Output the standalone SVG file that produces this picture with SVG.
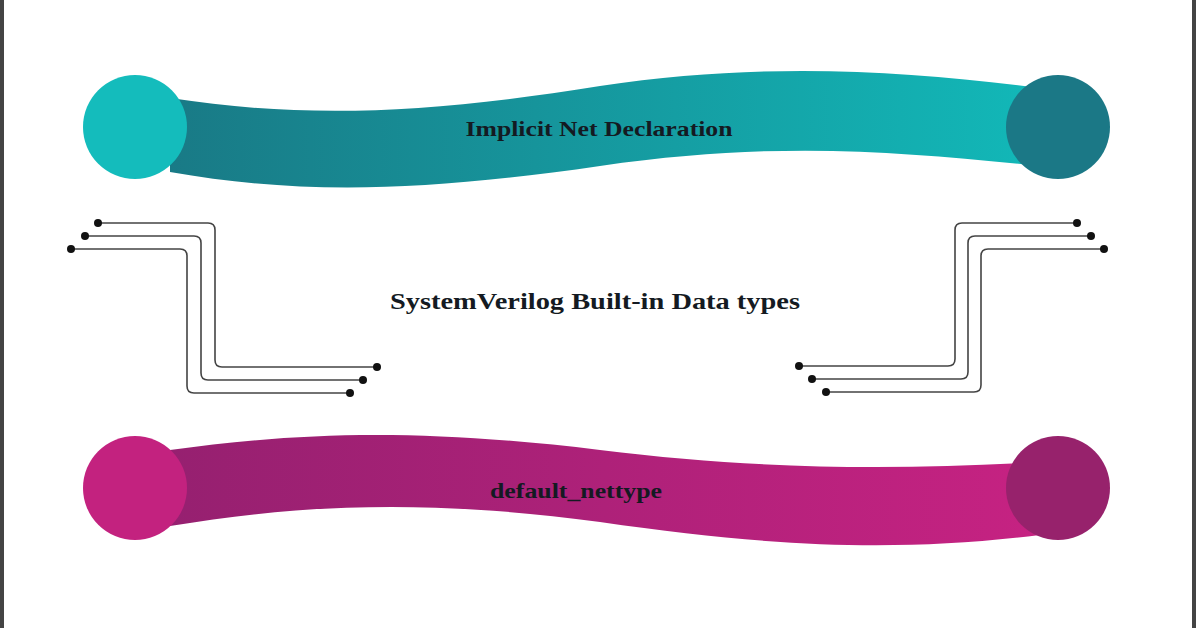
<svg xmlns="http://www.w3.org/2000/svg" width="1196" height="628" viewBox="0 0 1196 628">
<style>
.t{font-family:"Liberation Serif","Times New Roman",serif;font-weight:bold;fill:#141a22;text-anchor:middle}
.w{fill:none;stroke:#444;stroke-width:1.6}
.d{fill:#111}
</style>
<defs>
<linearGradient id="gt" x1="0" x2="1" y1="0" y2="0"><stop offset="0" stop-color="#197a86"/><stop offset="1" stop-color="#12b8b8"/></linearGradient>
<linearGradient id="gm" x1="0" x2="1" y1="0" y2="0"><stop offset="0" stop-color="#962070"/><stop offset="1" stop-color="#c62282"/></linearGradient>
</defs>
<rect width="1196" height="628" fill="#fff"/>
<rect x="0" y="0" width="4" height="628" fill="#444"/>
<rect x="1192" y="0" width="4" height="628" fill="#444"/>
<g id="implicit">
<path d="M170,98 C300,118 420,115 600,86 C760,62 900,70 1040,88 L1040,166 C900,152 780,140 600,166 C420,192 300,195 170,172 Z" fill="url(#gt)"/>
<circle cx="135" cy="127" r="52" fill="#14bcbc"/>
<circle cx="1058" cy="127" r="52" fill="#1b7886"/>
<text class="t" x="599" y="136" font-size="21" textLength="267" lengthAdjust="spacingAndGlyphs">Implicit Net Declaration</text>
</g>
<g id="default">
<path d="M170,450 C300,432 420,428 600,450 C760,470 900,470 1040,462 L1040,535 C900,552 780,548 600,522 C420,498 300,505 170,526 Z" fill="url(#gm)"/>
<circle cx="135" cy="488" r="52" fill="#c3227f"/>
<circle cx="1058" cy="488" r="52" fill="#97226c"/>
<text class="t" x="576" y="498" font-size="21" textLength="172" lengthAdjust="spacingAndGlyphs">default_nettype</text>
</g>
<g id="title">
<text class="t" x="595" y="309" font-size="24" textLength="410" lengthAdjust="spacingAndGlyphs">SystemVerilog Built-in Data types</text>
</g>
<g id="connectors">
<path class="w" d="M98,223 H208 Q215,223 215,230 V360 Q215,367 222,367 H377"/>
<path class="w" d="M85,236 H194 Q201,236 201,243 V373 Q201,380 208,380 H363"/>
<path class="w" d="M71,249 H180 Q187,249 187,256 V386 Q187,393 194,393 H350"/>
<circle class="d" cx="98" cy="223" r="4"/><circle class="d" cx="85" cy="236" r="4"/><circle class="d" cx="71" cy="249" r="4"/>
<circle class="d" cx="377" cy="367" r="4"/><circle class="d" cx="363" cy="380" r="4"/><circle class="d" cx="350" cy="393" r="4"/>
<path class="w" d="M1077,223 H962 Q955,223 955,230 V359 Q955,366 948,366 H799"/>
<path class="w" d="M1091,236 H975 Q968,236 968,243 V372 Q968,379 961,379 H812"/>
<path class="w" d="M1104,249 H988 Q981,249 981,256 V385 Q981,392 974,392 H826"/>
<circle class="d" cx="1077" cy="223" r="4"/><circle class="d" cx="1091" cy="236" r="4"/><circle class="d" cx="1104" cy="249" r="4"/>
<circle class="d" cx="799" cy="366" r="4"/><circle class="d" cx="812" cy="379" r="4"/><circle class="d" cx="826" cy="392" r="4"/>
</g>
</svg>
